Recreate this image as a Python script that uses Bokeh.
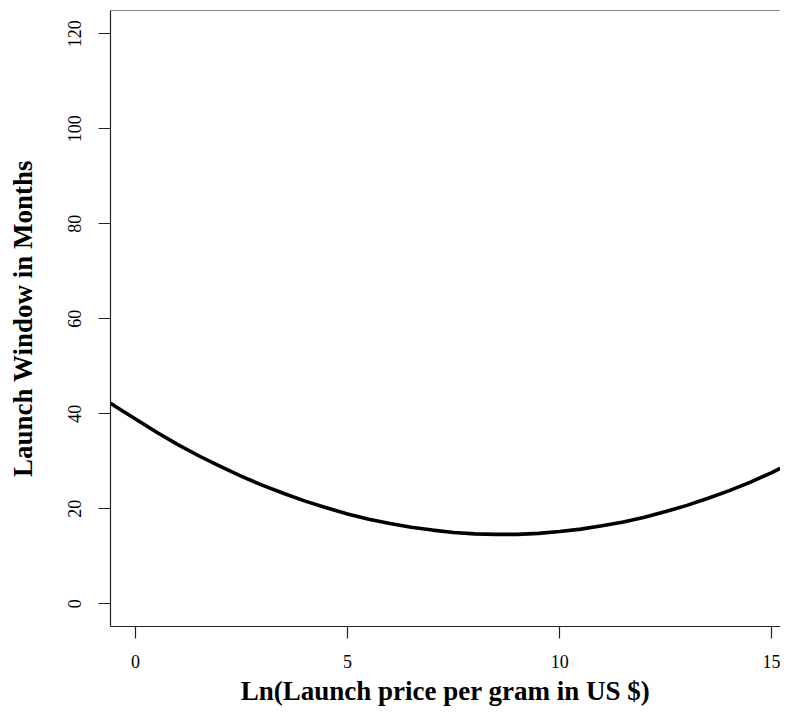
from bokeh.plotting import figure
from bokeh.models import Range1d, FixedTicker, Span, ColumnDataSource
from bokeh.embed import file_html
from bokeh.resources import INLINE

# Data
ln_price = [-0.59, -0.5, 0, 0.5, 1, 1.5, 2, 2.5, 3, 3.5, 4, 4.5, 5, 5.5, 6, 6.5,
            7, 7.5, 8, 8.5, 9, 9.5, 10, 10.5, 11, 11.5, 12, 12.5, 13, 13.5,
            14, 14.5, 15, 15.2]
launch_window = [42.2, 41.7, 38.9, 36.1, 33.5, 31.1, 28.9, 26.8, 24.9, 23.2,
                 21.6, 20.2, 18.9, 17.8, 16.9, 16.1, 15.5, 15.0, 14.7, 14.6,
                 14.6, 14.8, 15.2, 15.7, 16.4, 17.2, 18.2, 19.4, 20.7, 22.2,
                 23.8, 25.6, 27.6, 28.5]
x_ticks = [0, 5, 10, 15]
y_ticks = [0, 20, 40, 60, 80, 100, 120]
x_title = "Ln(Launch price per gram in US $)"
y_title = "Launch Window in Months"

FONT = "Liberation Serif"

src = ColumnDataSource(dict(x=ln_price, y=launch_window))

p = figure(width=780, height=708, output_backend="svg", toolbar_location=None,
           x_range=Range1d(-0.589, 15.206), y_range=Range1d(-4.8, 124.9),
           min_border_left=110, min_border_right=0, min_border_top=10,
           min_border_bottom=82)

p.line("x", "y", source=src, line_color="black", line_width=3.6)

p.outline_line_color = None
p.grid.visible = False
p.background_fill_color = "white"
p.border_fill_color = "white"

top = Span(location=124.9, dimension="width", line_color="#222222", line_width=1.2)
p.add_layout(top)

for ax in (p.xaxis[0], p.yaxis[0]):
    ax.axis_line_color = "#222222"
    ax.axis_line_width = 1.2
    ax.major_tick_line_color = "#222222"
    ax.major_tick_line_width = 1.2
    ax.major_tick_in = 0
    ax.major_tick_out = 12
    ax.minor_tick_line_color = None
    ax.major_label_text_font = FONT
    ax.major_label_text_font_size = "18px"
    ax.major_label_text_color = "black"
    ax.axis_label_text_font = FONT
    ax.axis_label_text_font_style = "bold"
    ax.axis_label_text_font_size = "27px"
    ax.axis_label_text_color = "black"

p.xaxis[0].ticker = FixedTicker(ticks=x_ticks)
p.yaxis[0].ticker = FixedTicker(ticks=y_ticks)
p.xaxis[0].axis_label = x_title
p.yaxis[0].axis_label = y_title
p.xaxis[0].major_label_standoff = 16
p.xaxis[0].axis_label_standoff = 5
p.yaxis[0].major_label_orientation = "vertical"
p.yaxis[0].major_label_standoff = 17
p.yaxis[0].axis_label_standoff = 28

open("out.html", "w").write(file_html(p, INLINE))
